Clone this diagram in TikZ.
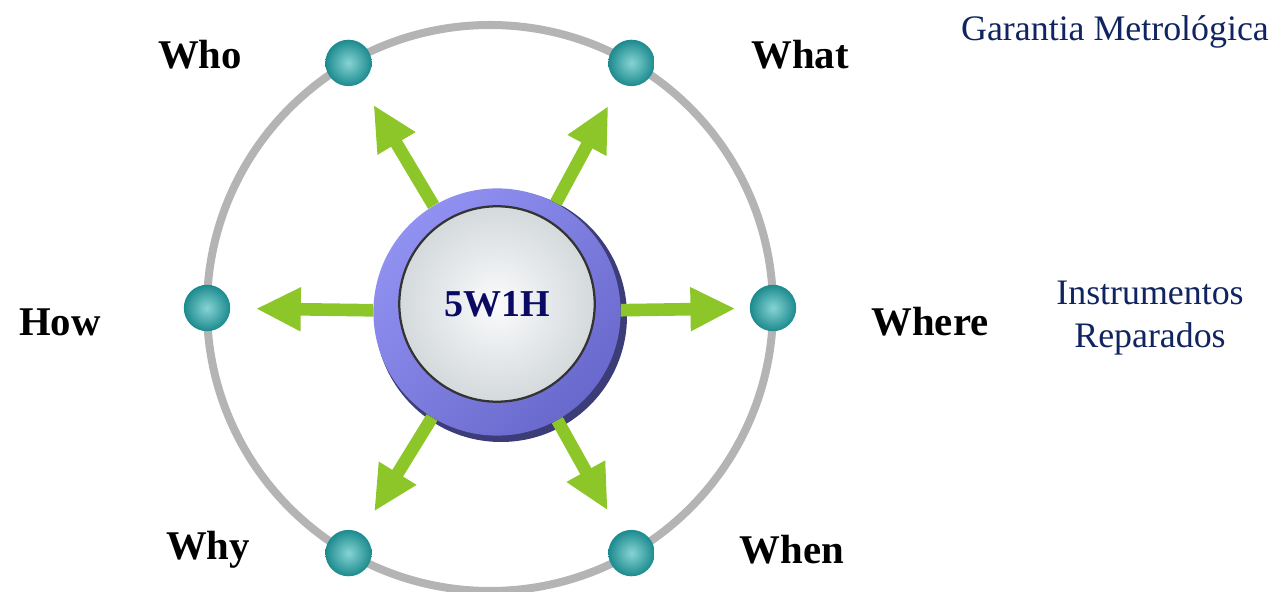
\documentclass[tikz,border=0pt]{standalone}
\usepackage{fontspec}
\setmainfont{Liberation Serif}
\usetikzlibrary{calc}
\usetikzlibrary{arrows.meta}
\definecolor{ringgray}{RGB}{180,180,180}
\definecolor{tealL}{RGB}{135,212,212}
\definecolor{tealD}{RGB}{28,138,142}
\definecolor{arrowgreen}{RGB}{140,198,40}
\definecolor{purpleL}{RGB}{145,145,242}
\definecolor{purpleD}{RGB}{105,105,205}
\definecolor{purpleS}{RGB}{60,60,120}
\definecolor{faceL}{RGB}{250,251,252}
\definecolor{faceD}{RGB}{212,217,220}
\definecolor{navyhub}{RGB}{10,10,100}
\definecolor{navytext}{RGB}{16,36,96}
\tikzset{
  wdot/.style={circle, minimum size=33pt, inner sep=0pt, shade, inner color=tealL, outer color=tealD},
  wlabel/.style={font=\fontsize{29}{34}\selectfont\bfseries, text=black},
  warrow/.style={draw=arrowgreen, line width=9pt, -{Triangle[width=29pt,length=32pt]}, shorten >=18pt},
  hub/.style={circle, minimum size=175.8pt, inner sep=0pt, left color=purpleL, right color=purpleD, shading angle=45},
  face/.style={circle, minimum size=139pt, inner sep=0pt, draw=black!80, line width=1.6pt, shade, inner color=faceL, outer color=faceD, text=navyhub, font=\fontsize{27}{32}\selectfont\bfseries},
  bluetext/.style={text=navytext, font=\fontsize{25.5}{30}\selectfont, align=center}
}
\begin{document}
\begin{tikzpicture}[x=0.025cm,y=0.025cm]
        \useasboundingbox (0,0) rectangle (1284,592);
        \coordinate (c) at (490,284);
        %ring
        \draw[ringgray, line width=5.7pt] (c) circle (283);
        %dots
        \node[wdot] (who) at ($(c)+(120:283)$) {};
        \node[wdot] (what) at ($(c)+(60:283)$) {};
        \node[wdot] (how) at ($(c)+(180:283)$) {};
        \node[wdot] (where) at ($(c)+(0:283)$) {};
        \node[wdot] (why) at ($(c)+(240:283)$) {};
        \node[wdot] (when) at ($(c)+(300:283)$) {};
        %hub
        \fill[purpleS] (501,276) circle (126);
        \node[hub] (hub) at (497,280) {};
        \node[face] (face) at (497,288) {5W1H};
        %arrows
        \draw[warrow] (hub) -- (who);
        \draw[warrow] (hub) -- (what);
        \draw[warrow] (hub) -- (how);
        \draw[warrow, shorten >=10pt] (hub) -- (where);
        \draw[warrow] (hub) -- (why);
        \draw[warrow] (hub) -- (when);
        %labels
        \node[wlabel] (lwho) at (200,537) {Who};
        \node[wlabel] (lwhat) at (800,537) {What};
        \node[wlabel] (lhow) at (60,270) {How};
        \node[wlabel] (lwhere) at (930,270) {Where};
        \node[wlabel] (lwhy) at (208,42) {Why};
        \node[wlabel] (lwhen) at (792,42) {When};
        \node[bluetext] (garantia) at (1115,560) {Garantia Metrológica};
        \node[bluetext] (instr) at (1150,274) {Instrumentos\\Reparados};
\end{tikzpicture}
\end{document}
